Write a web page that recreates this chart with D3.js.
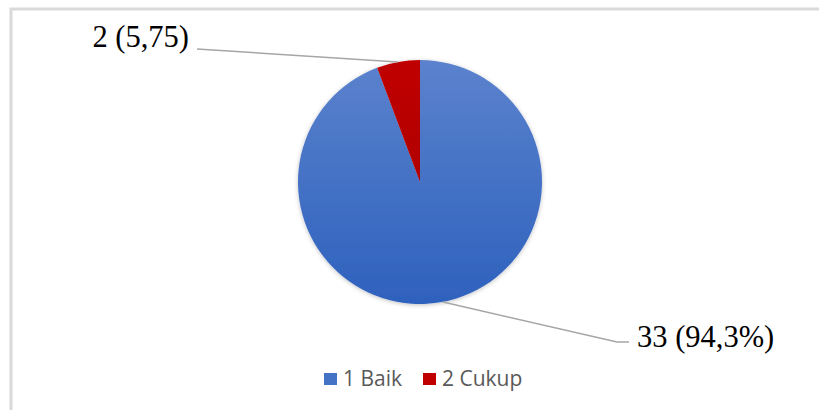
<!DOCTYPE html>
<html><head><meta charset="utf-8">
<script src="https://cdn.jsdelivr.net/npm/d3@7"></script>
<style>body{margin:0;background:#fff}svg{display:block}</style>
</head><body>
<svg id="c" width="819" height="410"></svg>
<script>
const categories = ["1 Baik", "2 Cukup"];
const values = [33, 2];
const labels = ["33 (94,3%)", "2 (5,75)"];
const colors = ["#4472c4", "#c00000"];

const svg = d3.select("#c");
const W = 819, H = 410;

// chart frame (left + top visible)
svg.append("path").attr("d", `M11,${H} L11,9 L${W},9`)
  .attr("fill", "none").attr("stroke", "#d9d9d9").attr("stroke-width", 3);

const defs = svg.append("defs");
const gBlue = defs.append("linearGradient").attr("id", "gb").attr("x1", 0).attr("y1", 0).attr("x2", 0).attr("y2", 1);
gBlue.append("stop").attr("offset", "0%").attr("stop-color", "#5b82cd");
gBlue.append("stop").attr("offset", "100%").attr("stop-color", "#2e61bd");
const gRed = defs.append("linearGradient").attr("id", "gr").attr("x1", 0).attr("y1", 0).attr("x2", 0).attr("y2", 1);
gRed.append("stop").attr("offset", "0%").attr("stop-color", "#c00000");
gRed.append("stop").attr("offset", "100%").attr("stop-color", "#b00000");
const filt = defs.append("filter").attr("id", "sh").attr("x", "-20%").attr("y", "-20%").attr("width", "140%").attr("height", "140%");
filt.append("feDropShadow").attr("dx", 0).attr("dy", 1).attr("stdDeviation", 2).attr("flood-color", "#000").attr("flood-opacity", 0.25);

const cx = 420, cy = 182, R = 122;
const pie = d3.pie().sort(null).value(d => d)(values);
const arc = d3.arc().innerRadius(0).outerRadius(R);
const fills = ["url(#gb)", "url(#gr)"];

const g = svg.append("g").attr("transform", `translate(${cx},${cy})`);
g.append("g").attr("filter", "url(#sh)").selectAll("path").data(pie).join("path")
  .attr("d", arc).attr("fill", (d, i) => fills[i]);

// leader lines and labels
const labelPos = [
  {text: [637, 347], anchor: "start"},
  {text: [189, 47], anchor: "end"}
];
const leaders = [
  [[443, 302], [617, 342], [629, 342]],
  [[398, 62], [197, 49]]
];
pie.forEach((d, i) => {
  const lp = labelPos[i];
  svg.append("path").attr("d", d3.line()(leaders[i])).attr("fill", "none")
    .attr("stroke", "#a6a6a6").attr("stroke-width", 1.5);
  svg.append("text").attr("x", lp.text[0]).attr("y", lp.text[1])
    .attr("text-anchor", lp.anchor)
    .attr("font-family", "'Liberation Serif', 'Times New Roman', serif")
    .attr("font-size", 30.5).attr("fill", "#000").text(labels[i]);
});

// legend
const legX = [324, 423];
const leg = svg.append("g");
categories.forEach((c, i) => {
  leg.append("rect").attr("x", legX[i]).attr("y", 373).attr("width", 13).attr("height", 12)
    .attr("fill", colors[i]);
  leg.append("text").attr("x", legX[i] + 19).attr("y", 386)
    .attr("font-family", "'Open Sans', 'Noto Sans', sans-serif")
    .attr("font-size", 21).attr("fill", "#595959").text(c);
});
</script>
</body></html>
